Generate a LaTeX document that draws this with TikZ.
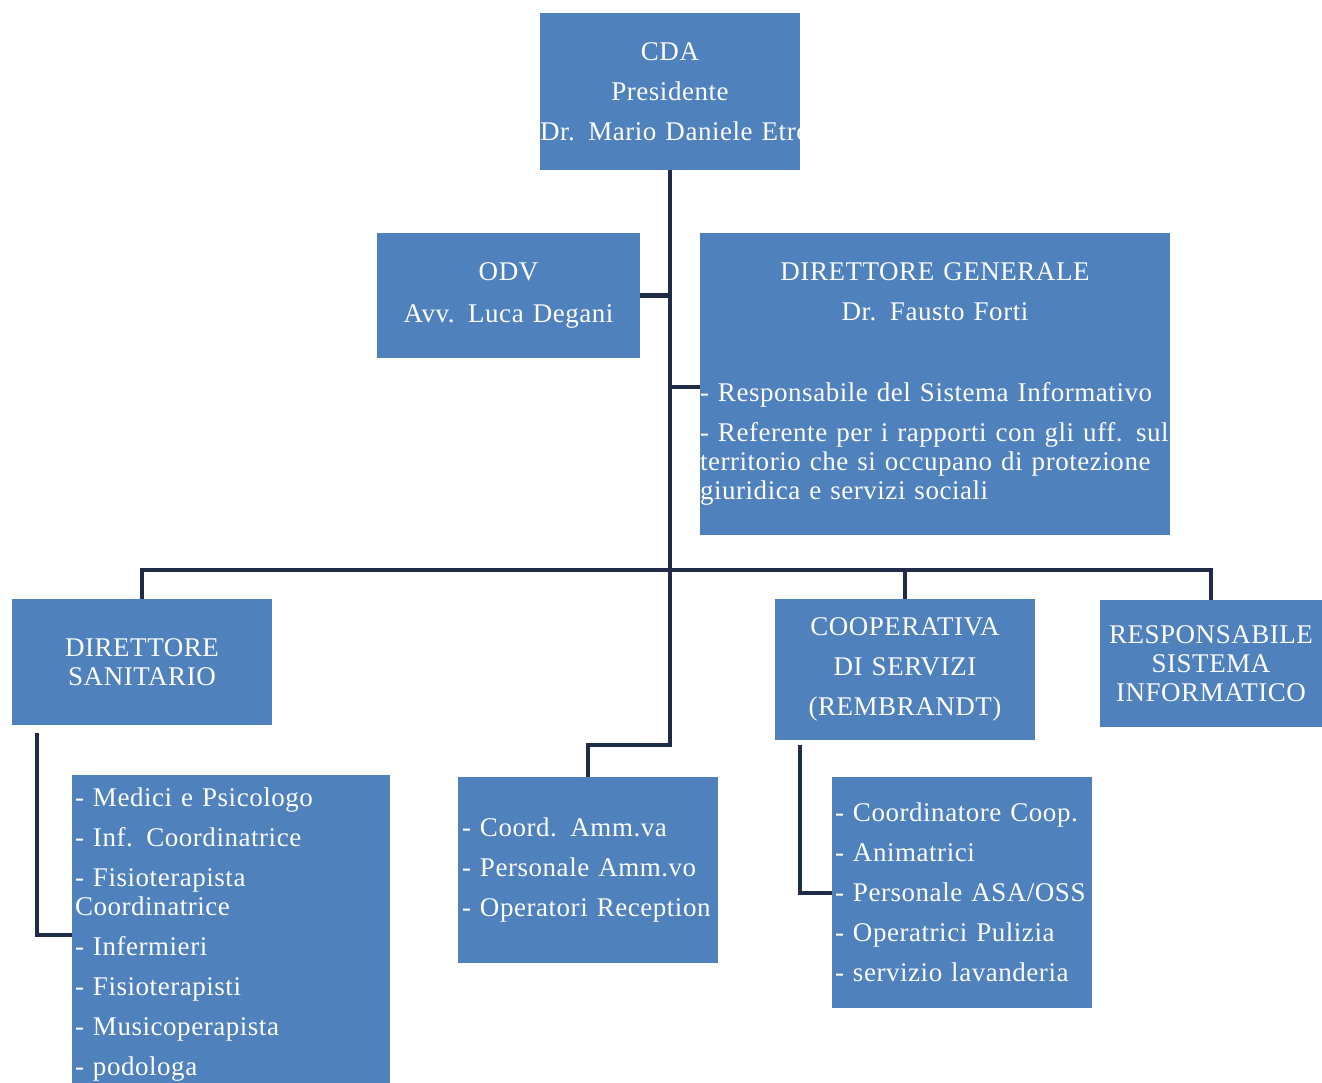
\documentclass[tikz,border=0pt]{standalone}
\usepackage{fontspec}
\setmainfont{Liberation Serif}[LetterSpace=2]
\definecolor{boxBlue}{HTML}{4F81BD}
\definecolor{linkNavy}{HTML}{1F2B47}
\newcommand{\gapline}{\\[11pt]}

\begin{document}
\begin{tikzpicture}[x=1pt,y=-1pt,
    box/.style={fill=boxBlue, text=white, inner sep=0pt, align=center,
      font=\fontsize{27}{29}\selectfont},
    dims/.style 2 args={minimum width=#1, text width=#1, minimum height=#2},
    link/.style={draw=linkNavy, line width=4pt}]
  \useasboundingbox (0,0) rectangle (1322,1083);

  % --- vertice ---
  \node[box, dims={260}{157}] (cda) at (670,91.5)
    {CDA\gapline Presidente\gapline \mbox{Dr. Mario Daniele Etro}};
  \node[box, dims={263}{125}] (odv) at (508.5,295.5)
    {ODV\\[13pt]Avv. Luca Degani};
  \node[box, align=left, dims={470}{302}] (dg) at (935,384)
    {\makebox[\hsize]{DIRETTORE GENERALE}\gapline\makebox[\hsize]{Dr. Fausto Forti}\\[52pt]%
     - Responsabile del Sistema Informativo\gapline
     - Referente per i rapporti con gli uff. sul\\territorio che si occupano di protezione\\giuridica e servizi sociali};

  % --- secondo livello ---
  \node[box, dims={260}{126}] (ds) at (142,662) {DIRETTORE\\SANITARIO};
  \node[box, dims={260}{141}] (coop) at (905,669.5)
    {COOPERATIVA\gapline DI SERVIZI\gapline (REMBRANDT)};
  \node[box, dims={222}{127}] (rsi) at (1211,663.5)
    {RESPONSABILE\\SISTEMA\\INFORMATICO};

  % --- elenchi del personale ---
  \node[box, align=left, inner xsep=3pt, minimum width=318, text width=312, minimum height=320] (dslist) at (231,935)
    {- Medici e Psicologo\gapline - Inf. Coordinatrice\gapline - Fisioterapista\\Coordinatrice\gapline
     - Infermieri\gapline - Fisioterapisti\gapline - Musicoperapista\gapline - podologa};
  \node[box, align=left, inner xsep=4pt, minimum width=260, text width=252, minimum height=186] (amm) at (588,870)
    {- Coord. Amm.va\gapline - Personale Amm.vo\gapline - Operatori Reception};
  \node[box, align=left, inner xsep=3pt, minimum width=260, text width=254, minimum height=231] (cooplist) at (962,892.5)
    {- Coordinatore Coop.\gapline - Animatrici\gapline - Personale ASA/OSS\gapline - Operatrici Pulizia\gapline - servizio lavanderia};

  % --- collegamenti ---
  \coordinate (bus) at (670,570);
  \coordinate (elbow) at (670,745);
  \coordinate (dgtap) at (670,387);
  \draw[link] (cda.south) -- (elbow) -| (amm.north);
  \draw[link] (ds.north) |- (bus) -| (rsi.north);
  \draw[link] (bus) -| (coop.north);
  \draw[link] (odv.east) -- (odv.east -| bus);
  \draw[link] (dgtap) -- (dgtap -| dg.west);
  \draw[link] ([xshift=25pt,yshift=-8pt]ds.south west) |- (dslist.west);
  \draw[link] ([xshift=25pt,yshift=-5pt]coop.south west) |- (cooplist.west);
\end{tikzpicture}
\end{document}
